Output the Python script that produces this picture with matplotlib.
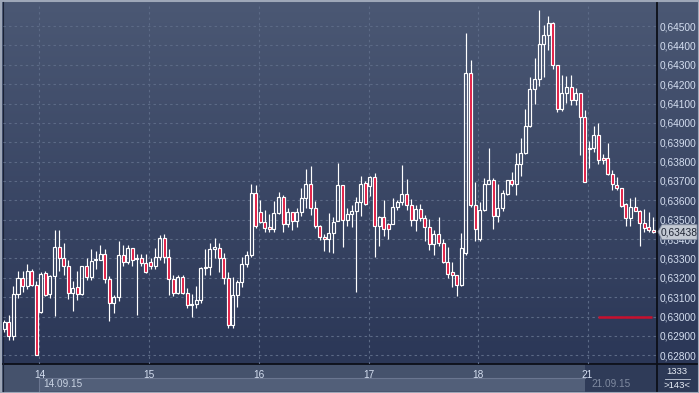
import matplotlib
matplotlib.use('Agg')
import matplotlib.pyplot as plt
import numpy as np
from matplotlib.patches import Rectangle, Polygon
from matplotlib import transforms

# ---------------- data ----------------
opens = [0.62935, 0.6297, 0.62898, 0.63117, 0.6320, 0.63157, 0.63236, 0.63164, 0.63022, 0.63226,
         0.63114, 0.63209, 0.6336, 0.63303, 0.6326, 0.63122, 0.63153, 0.63117, 0.6326, 0.63203,
         0.63291, 0.63291, 0.63324, 0.63195, 0.63071, 0.63102, 0.63319, 0.63281, 0.63355, 0.63298,
         0.633, 0.63277, 0.63281, 0.6326, 0.63307, 0.63407, 0.63307, 0.63195, 0.63122, 0.63205,
         0.63122, 0.6306, 0.63066, 0.63088, 0.6325, 0.63257, 0.6335, 0.63356, 0.633, 0.63201,
         0.62957, 0.63109, 0.63178, 0.63269, 0.63317, 0.63639, 0.63538, 0.6349, 0.6346, 0.63452,
         0.63535, 0.63618, 0.63479, 0.63538, 0.63491, 0.6354, 0.63613, 0.63686, 0.63561, 0.63469,
         0.6341, 0.63399, 0.6343, 0.63491, 0.63677, 0.635, 0.6353, 0.63547, 0.63592, 0.63691,
         0.63674, 0.63723, 0.63465, 0.63514, 0.63479, 0.63479, 0.63566, 0.63592, 0.63634, 0.63574,
         0.635, 0.63556, 0.63509, 0.63462, 0.63374, 0.63426, 0.63379, 0.6328, 0.63228, 0.63213,
         0.63164, 0.63327, 0.64258, 0.63578, 0.634, 0.63548, 0.63682, 0.63704, 0.63517, 0.63561,
         0.63635, 0.63704, 0.63687, 0.63789, 0.63843, 0.63984, 0.64175, 0.64227, 0.64408, 0.64452,
         0.64517, 0.64299, 0.64071, 0.64153, 0.64184, 0.64119, 0.64153, 0.64032, 0.63864, 0.63872,
         0.63937, 0.6382, 0.6382, 0.63737, 0.6368, 0.63664, 0.63581, 0.63509, 0.63564, 0.63543,
         0.63481, 0.6346, 0.63446]
highs = [0.6298, 0.6301, 0.6316, 0.63234, 0.63234, 0.63272, 0.63246, 0.63183, 0.6323, 0.63233,
         0.63217, 0.63445, 0.63445, 0.63381, 0.6329, 0.63183, 0.63234, 0.63262, 0.63303, 0.63347,
         0.63338, 0.63367, 0.63347, 0.63209, 0.63109, 0.63388, 0.63371, 0.63367, 0.63355, 0.63321,
         0.63324, 0.63321, 0.63303, 0.63352, 0.63421, 0.63424, 0.63347, 0.63217, 0.63214, 0.63212,
         0.63145, 0.63114, 0.63157, 0.63255, 0.63347, 0.63381, 0.63407, 0.63378, 0.63326, 0.6323,
         0.63204, 0.6319, 0.63309, 0.63338, 0.63683, 0.63677, 0.63604, 0.63552, 0.63531, 0.63599,
         0.63644, 0.6363, 0.63561, 0.6354, 0.63561, 0.63665, 0.63764, 0.63775, 0.63599, 0.63474,
         0.63425, 0.63535, 0.63514, 0.63792, 0.63677, 0.63561, 0.63578, 0.63618, 0.63726, 0.637,
         0.63726, 0.6374, 0.63521, 0.63604, 0.63483, 0.63613, 0.63604, 0.63782, 0.63709, 0.63608,
         0.63578, 0.63583, 0.63526, 0.63504, 0.63448, 0.63514, 0.634, 0.63357, 0.63283, 0.63213,
         0.6343, 0.64465, 0.64327, 0.63694, 0.6359, 0.63716, 0.63872, 0.63716, 0.63682, 0.63656,
         0.63706, 0.63747, 0.63846, 0.63924, 0.64074, 0.64235, 0.64334, 0.64581, 0.64503, 0.64552,
         0.6452, 0.64299, 0.64247, 0.6424, 0.64249, 0.64179, 0.64153, 0.64067, 0.63907, 0.63983,
         0.63997, 0.63838, 0.63897, 0.63755, 0.6372, 0.63664, 0.63585, 0.63612, 0.63616, 0.6355,
         0.63555, 0.63538, 0.63515]
lows = [0.6292, 0.62881, 0.62878, 0.63097, 0.63126, 0.6314, 0.63157, 0.628, 0.63019, 0.63105,
        0.63097, 0.63002, 0.63234, 0.63212, 0.63091, 0.63028, 0.63088, 0.63109, 0.63191, 0.63188,
        0.63243, 0.63291, 0.63174, 0.62976, 0.63016, 0.6308, 0.6326, 0.63269, 0.6326, 0.6301,
        0.6326, 0.63226, 0.63243, 0.63246, 0.63291, 0.63274, 0.63109, 0.63105, 0.63119, 0.63119,
        0.63043, 0.62998, 0.63045, 0.63071, 0.63217, 0.63217, 0.63303, 0.6323, 0.6317, 0.6294,
        0.6294, 0.63048, 0.63152, 0.63257, 0.63305, 0.63456, 0.63483, 0.63439, 0.63434, 0.63439,
        0.63531, 0.63439, 0.63462, 0.63448, 0.63462, 0.63517, 0.63561, 0.63526, 0.63456, 0.63396,
        0.6334, 0.63335, 0.6333, 0.63491, 0.63357, 0.63469, 0.63462, 0.63126, 0.63517, 0.63578,
        0.63622, 0.63309, 0.63364, 0.63418, 0.63399, 0.63479, 0.63549, 0.63574, 0.63552, 0.63469,
        0.63443, 0.63491, 0.63392, 0.63344, 0.63317, 0.63364, 0.63274, 0.632, 0.63152, 0.63105,
        0.6316, 0.6332, 0.63566, 0.63388, 0.63388, 0.63545, 0.63682, 0.63452, 0.63486, 0.63547,
        0.6363, 0.63673, 0.6363, 0.63728, 0.63837, 0.6398, 0.64097, 0.64189, 0.64235, 0.64374,
        0.64279, 0.64054, 0.64062, 0.64101, 0.64093, 0.64093, 0.63833, 0.63694, 0.63768, 0.6385,
        0.63789, 0.63789, 0.63729, 0.63651, 0.63651, 0.63564, 0.63469, 0.63469, 0.63547, 0.63365,
        0.63434, 0.63439, 0.63429]
closes = [0.6297, 0.62898, 0.63117, 0.6320, 0.63157, 0.63236, 0.63162, 0.62802, 0.63221, 0.6311,
          0.63209, 0.6336, 0.63303, 0.6326, 0.63122, 0.63148, 0.63117, 0.6326, 0.63203, 0.63286,
          0.63295, 0.63324, 0.63195, 0.63071, 0.63102, 0.63319, 0.63281, 0.63355, 0.63291, 0.633,
          0.63274, 0.6323, 0.6326, 0.63307, 0.63407, 0.63307, 0.63195, 0.63122, 0.63205, 0.63122,
          0.6306, 0.63066, 0.63088, 0.63252, 0.63257, 0.6335, 0.6336, 0.633, 0.63201, 0.62957,
          0.63109, 0.63178, 0.63269, 0.63317, 0.63639, 0.63469, 0.6349, 0.63456, 0.63452, 0.63535,
          0.63618, 0.63479, 0.63538, 0.63491, 0.6354, 0.63613, 0.63686, 0.63561, 0.63465, 0.6341,
          0.63399, 0.6343, 0.63486, 0.63677, 0.635, 0.6353, 0.63547, 0.63592, 0.63686, 0.63582,
          0.63723, 0.63465, 0.63514, 0.63452, 0.63452, 0.63566, 0.63592, 0.63634, 0.63574, 0.635,
          0.63556, 0.63509, 0.63462, 0.63374, 0.63426, 0.63379, 0.6328, 0.63222, 0.63213, 0.63164,
          0.63352, 0.64258, 0.63578, 0.63452, 0.63548, 0.63682, 0.63704, 0.63517, 0.63561, 0.63638,
          0.63704, 0.63687, 0.63789, 0.63843, 0.63984, 0.64175, 0.64227, 0.64408, 0.64452, 0.64517,
          0.64299, 0.64071, 0.64154, 0.64184, 0.64119, 0.64153, 0.64032, 0.63694, 0.63872, 0.63937,
          0.63807, 0.63807, 0.63737, 0.63682, 0.63664, 0.63573, 0.63509, 0.63564, 0.63547, 0.63481,
          0.63457, 0.63446, 0.63438]

price_ticks = [0.628, 0.629, 0.630, 0.631, 0.632, 0.633, 0.634, 0.635, 0.636,
               0.637, 0.638, 0.639, 0.640, 0.641, 0.642, 0.643, 0.644, 0.645]
day_labels = ['14', '15', '16', '17', '18', '21']
day_positions = [7.7, 31.7, 55.7, 79.7, 103.7, 127.6]
first_date = '14.09.15'
last_date = '21.09.15'
last_price = 0.63438
level_price = 0.630
level_span = (129.8, 141.8)
corner_top = '1333'
corner_bottom = '>143<'

# ---------------- figure ----------------
W, H = 699, 393
fig = plt.figure(figsize=(W / 100, H / 100), dpi=100)
fig.patch.set_facecolor('#44516b')

bg = fig.add_axes([0, 0, 1, 1], zorder=-5)
bg.set_xlim(0, W)
bg.set_ylim(H, 0)
bg.axis('off')

top_c = np.array([0x4b, 0x58, 0x74]) / 255
bot_c = np.array([0x2b, 0x37, 0x57]) / 255
t = np.linspace(0, 1, 256)[:, None]
grad = top_c[None, :] * (1 - t) + bot_c[None, :] * t
grad = np.repeat(grad[:, None, :], 2, axis=1)
bg.imshow(grad, extent=[0, W, 364, 0], aspect='auto', interpolation='bilinear', zorder=0)

# bottom strip
bg.add_patch(Rectangle((0, 364), W, H - 364, facecolor='#45526c', edgecolor='none', zorder=1))
bg.add_patch(Rectangle((39, 378), 546, 13, facecolor='#525f79', edgecolor='none', zorder=2))
bg.plot([39, 585], [378, 378], color='#6a7690', lw=0.8, zorder=3)
bg.plot([39, 39], [378, 391], color='#6a7690', lw=0.8, zorder=3)
bg.add_patch(Rectangle((585, 365), 72, 27, facecolor='#2f3b58', edgecolor='none', zorder=2))
bg.add_patch(Rectangle((657, 364), W - 657, H - 364, facecolor='#2d3956', edgecolor='none', zorder=2))
bg.text(43, 384, first_date, color='#c9d3e3', fontsize=7.2, family='Liberation Sans',
        va='center', ha='left', zorder=4)
bg.text(591, 384, last_date, color='#7f8aa0', fontsize=7.2, family='Liberation Sans',
        va='center', ha='left', zorder=4)
bg.text(677, 372, corner_top, color='#e6ecf5', fontsize=6.8, family='Liberation Sans',
        va='center', ha='center', zorder=4)
bg.plot([665, 690], [378.5, 378.5], color='#c8d0de', lw=0.6, zorder=4)
bg.text(677, 385.5, corner_bottom, color='#e6ecf5', fontsize=6.8, family='Liberation Sans',
        va='center', ha='center', zorder=4)

# separators and frame
bg.plot([0, W], [364, 364], color='#0c0f18', lw=1.3, zorder=5)
bg.plot([657, 657], [0, H], color='#0c0f18', lw=1.3, zorder=5)
bg.add_patch(Rectangle((0.5, 0.5), W - 1, H - 1, facecolor='none', edgecolor='#9ea7b8', lw=1.5, zorder=6))
bg.plot([2.5, 2.5], [2, 391], color='#1a2236', lw=0.8, zorder=6)

# ---------------- main axes ----------------
ax = fig.add_axes([3 / W, 1 - 364 / H, 654 / W, 361 / H])
ax.set_facecolor('none')
ax.set_xlim(-0.28, 142.8)
ax.set_ylim(0.62755, 0.64619)
for s in ax.spines.values():
    s.set_visible(False)

grid_kw = dict(color='#5c6a86', lw=0.8, linestyles=(0, (2.2, 2.8)), zorder=1)
ax.hlines(price_ticks, -0.28, 142.8, **grid_kw)
ax.vlines(day_positions, 0.62755, 0.64619, **grid_kw)

red = '#e0133c'
bw = 0.66
for i, (o, h, l, c) in enumerate(zip(opens, highs, lows, closes)):
    top = max(o, c)
    bot = min(o, c)
    hh = max(h, top)
    ll = min(l, bot)
    if hh > top:
        ax.plot([i, i], [top, hh], color='white', lw=0.85, solid_capstyle='butt', zorder=3)
    if ll < bot:
        ax.plot([i, i], [ll, bot], color='white', lw=0.85, solid_capstyle='butt', zorder=3)
    height = max(top - bot, 0.00002)
    fc = red if c < o else 'none'
    ax.add_patch(Rectangle((i - bw / 2, bot), bw, height, facecolor=fc,
                           edgecolor='white', lw=0.85, zorder=4))

ax.hlines(level_price, level_span[0], level_span[1], color='#c8102e', lw=1.8, zorder=5)

ax.yaxis.tick_right()
ax.set_yticks(price_ticks)
ax.set_yticklabels([f'{v:.5f}'.replace('.', ',') for v in price_ticks])
ax.set_xticks(day_positions)
ax.set_xticklabels(day_labels)
ax.tick_params(axis='y', length=0, pad=1.6, labelsize=7.3, labelcolor='#d4def0')
ax.tick_params(axis='x', length=0, pad=4.5, labelsize=7.3, labelcolor='#d4def0')
for lab in ax.get_yticklabels() + ax.get_xticklabels():
    lab.set_family('Liberation Sans')

# last price marker (covers the 0,63400 label as in the original)
bt = transforms.blended_transform_factory(ax.transAxes, ax.transData)
px = 1 / 654
ax.add_patch(Polygon([(1 + 1 * px, last_price), (1 + 5 * px, last_price + 0.00036),
                      (1 + 40 * px, last_price + 0.00036), (1 + 40 * px, last_price - 0.00040),
                      (1 + 5 * px, last_price - 0.00040)], closed=True,
                     transform=bt, clip_on=False, facecolor='#c3c9d3', edgecolor='#8a93a5',
                     lw=0.6, zorder=10))
ax.text(1 + 22.5 * px, last_price - 0.00002, f'{last_price:.5f}'.replace('.', ','),
        transform=bt, ha='center', va='center', fontsize=7.3, family='Liberation Sans',
        color='#1e2433', zorder=11, clip_on=False)

fig.savefig('out.png', dpi=100)
